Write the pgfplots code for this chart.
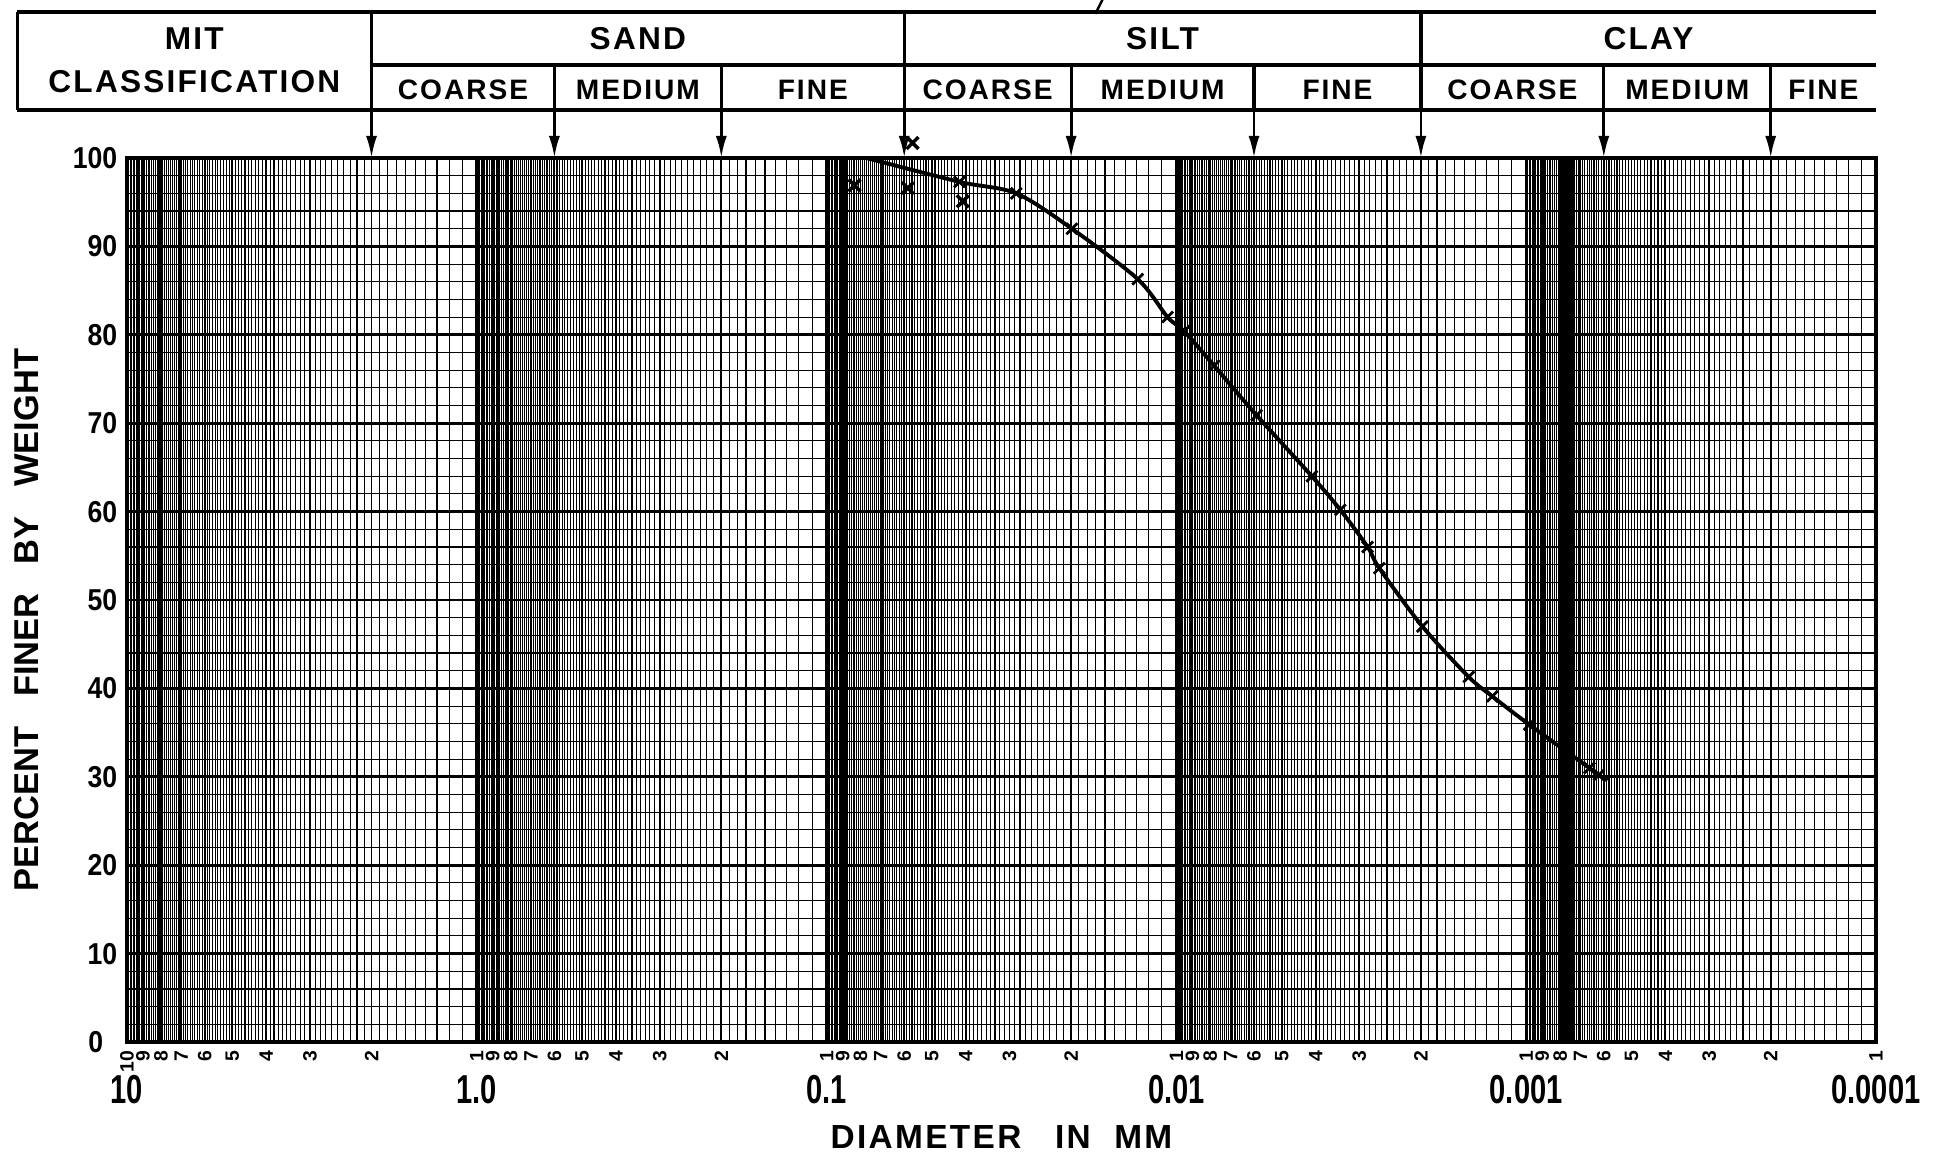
\documentclass[border=0pt]{standalone}
\usepackage{fontspec}
\setmainfont{Liberation Sans}
\newfontfamily\condfont{Liberation Sans}[FakeStretch=0.72]
\newfontfamily\ytfont{Liberation Sans}[FakeStretch=0.88]
\newfontfamily\hdrfont{Liberation Sans}[LetterSpace=7]
\usepackage{pgfplots}
\usepackage{pgfplotstable}
\pgfplotsset{compat=1.18}
\usetikzlibrary{arrows.meta}

% log paper: thin lines every 0.1 inside each decade
\def\minorlist{1e-4}
\foreach \e in {-4,...,0}{%
  \foreach \m in {1.1,1.2,...,9.95}{%
    \xdef\minorlist{\minorlist,\m e\e}}}

% grain size curve (diameter mm, percent finer)
\pgfplotstableread{
d p
0.0770 100.0
0.0417 97.3
0.0287 96.0
0.0199 92.0
0.0129 86.3
0.0106 82.0
0.0095 80.4
0.0078 76.5
0.0059 70.9
0.0041 64.0
0.0034 60.2
0.00284 56.0
0.00263 53.6
0.00198 47.0
0.00146 41.3
0.00125 39.1
0.00098 35.9
0.00066 31.0
0.00062 30.2
0.000586 29.6
}\gradcurve

% loose points off the curve
\pgfplotstableread{
d p
0.0832 96.9
0.0586 96.6
0.0568 101.7
0.0408 95.1
}\loose

\def\hdrA{\hdrfont\bfseries\fontsize{9}{10}\selectfont}
\def\hdrB{\hdrfont\bfseries\fontsize{8}{9}\selectfont}

\begin{document}
\begin{tikzpicture}
\begin{axis}[
  scale only axis,
  width=174.9mm, height=88.4mm,
  xmode=log, x dir=reverse,
  xmin=1e-4, xmax=10, ymin=0, ymax=100,
  clip=false,
  axis line style={line width=1pt},
  xtick={1e-4,1e-3,1e-2,1e-1,1,10},
  xticklabels={0.0001,0.001,0.01,0.1,1.0,10},
  minor xtick/.expanded={\minorlist},
  extra x ticks={10,9,8,7,6,5,4,3,2,1,
    0.9,0.8,0.7,0.6,0.5,0.4,0.3,0.2,0.1,
    0.09,0.08,0.07,0.06,0.05,0.04,0.03,0.02,0.01,
    0.009,0.008,0.007,0.006,0.005,0.004,0.003,0.002,0.001,
    9e-4,8e-4,7e-4,6e-4,5e-4,4e-4,3e-4,2e-4,1e-4},
  extra x tick labels={10,9,8,7,6,5,4,3,2,1,9,8,7,6,5,4,3,2,1,9,8,7,6,5,4,3,2,1,
    9,8,7,6,5,4,3,2,1,9,8,7,6,5,4,3,2,1},
  extra x tick style={
    grid=major,
    major grid style={line width=0.55pt, black},
    xticklabel style={rotate=90, anchor=east, inner sep=0pt,
      font=\bfseries\fontsize{5.5}{6}\selectfont},
    xticklabel shift=0.8mm,
  },
  ytick={0,10,...,100},
  yticklabels={0\rule{1.4mm}{0pt},10,20,30,40,50,60,70,80,90,100},
  minor y tick num=4,
  grid=both,
  major grid style={line width=0.8pt, black},
  minor grid style={line width=0.32pt, black},
  major tick length=0pt, minor tick length=0pt,
  xticklabel style={font=\condfont\bfseries\fontsize{11.5}{12}\selectfont,
    inner sep=0pt, anchor=north},
  xticklabel shift=3.3mm,
  yticklabel style={font=\ytfont\bfseries\fontsize{8.6}{9}\selectfont,
    inner sep=0pt, anchor=east},
  yticklabel shift=0.9mm,
  /pgf/number format/assume math mode=true,
]
\addplot[black, line width=1.1pt, smooth, tension=0.5, no marks]
  table[x=d, y=p] {\gradcurve};
\addplot[black, only marks, mark=x, mark size=2.2pt,
  mark options={line width=0.8pt},
  skip coords between index={0}{1}, skip coords between index={19}{20}]
  table[x=d, y=p] {\gradcurve};
\addplot[black, only marks, mark=x, mark size=2.4pt,
  mark options={line width=1pt}]
  table[x=d, y=p] {\loose};

% MIT classification header
\draw[line width=1.1pt] (axis cs:20.6,116.5) -- (axis cs:1e-4,116.5);
\draw[line width=1.1pt] (axis cs:2,110.5) -- (axis cs:1e-4,110.5);
\draw[line width=1.1pt] (axis cs:20.6,105.4) -- (axis cs:1e-4,105.4);
\draw[line width=0.9pt] (axis cs:20.6,116.5) -- (axis cs:20.6,105.4);
\pgfplotsinvokeforeach{2,0.06,0.002}{
  \draw[line width=0.9pt] (axis cs:#1,116.5) -- (axis cs:#1,105.4);
}
\pgfplotsinvokeforeach{0.6,0.2,0.02,0.006,0.0006,0.0002}{
  \draw[line width=0.9pt] (axis cs:#1,110.5) -- (axis cs:#1,105.4);
}
\pgfplotsinvokeforeach{2,0.6,0.2,0.06,0.02,0.006,0.002,0.0006,0.0002}{
  \draw[line width=0.8pt, -{Latex[length=2.2mm, width=1.1mm]}]
    (axis cs:#1,105.4) -- (axis cs:#1,100);
}
\draw[line width=0.7pt] (axis cs:0.01627,117.9) -- (axis cs:0.01706,116.3);

\node[font=\hdrA] at (axis cs:6.42,113.5) {MIT};
\node[font=\hdrA] at (axis cs:6.42,108.6) {CLASSIFICATION};
\node[font=\hdrA] at (axis cs:0.3464,113.5) {SAND};
\node[font=\hdrA] at (axis cs:0.01095,113.5) {SILT};
\node[font=\hdrA] at (axis cs:0.000447,113.5) {CLAY};
\node[font=\hdrB] at (axis cs:1.095,107.7) {COARSE};
\node[font=\hdrB] at (axis cs:0.3464,107.7) {MEDIUM};
\node[font=\hdrB] at (axis cs:0.1095,107.7) {FINE};
\node[font=\hdrB] at (axis cs:0.03464,107.7) {COARSE};
\node[font=\hdrB] at (axis cs:0.01095,107.7) {MEDIUM};
\node[font=\hdrB] at (axis cs:0.003464,107.7) {FINE};
\node[font=\hdrB] at (axis cs:0.001095,107.7) {COARSE};
\node[font=\hdrB] at (axis cs:0.0003464,107.7) {MEDIUM};
\node[font=\hdrB] at (axis cs:0.0001414,107.7) {FINE};
\end{axis}

\node[font=\hdrfont\bfseries\fontsize{9.5}{10}\selectfont, inner sep=0pt]
  at ([yshift=-9.5mm]current axis.south)
  {DIAMETER\hspace{2.2mm} IN\hspace{1.2mm} MM};
\node[rotate=90, font=\bfseries\fontsize{9.8}{10}\selectfont, inner sep=0pt]
  at ([xshift=-10mm, yshift=-2mm]current axis.west)
  {PERCENT\hspace{2mm} FINER\hspace{2mm} BY\hspace{2mm} WEIGHT};

\pgfresetboundingbox
\path[use as bounding box]
  ([xshift=-12.7mm, yshift=-11.5mm]current axis.south west) rectangle
  ([xshift=7.9mm, yshift=15.8mm]current axis.north east);
\end{tikzpicture}
\end{document}
